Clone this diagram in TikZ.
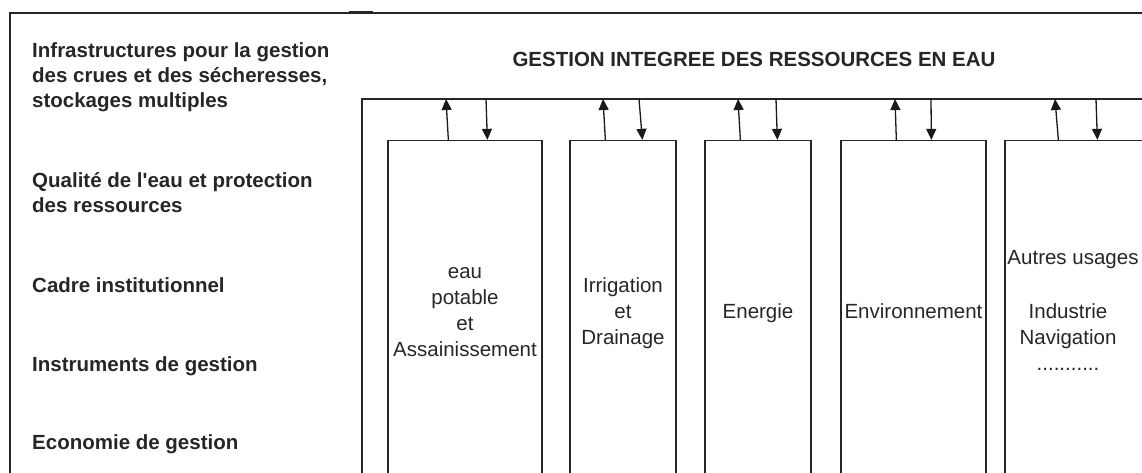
\documentclass[tikz,border=0pt]{standalone}
\usepackage{fontspec}
\setmainfont{Liberation Sans}
\usetikzlibrary{arrows.meta, calc}

\begin{document}
\begin{tikzpicture}[x=1pt, y=-1pt,
  trait/.style={line width=1.3pt, draw=black!85},
  usage/.style={draw=black!85, line width=1.3pt, minimum height=400pt, inner sep=0pt},
  fleche/.style={line width=1.3pt, draw=black!90, -{Triangle[length=11pt,width=10pt]}},
  titre/.style={font=\bfseries\fontsize{20.5}{25}\selectfont, text=black!85},
  theme/.style={anchor=west, align=left, inner sep=0pt, font=\bfseries\fontsize{20.5}{25}\selectfont, text=black!85},
  texte/.style={align=center, inner sep=0pt, font=\fontsize{20.5}{26}\selectfont, text=black!85}]

% Taille de la figure
\useasboundingbox (0,0) rectangle (1142,472);
\clip (0,0) rectangle (1142,472);

% Cadre extérieur
\draw[trait] (1160,13) -- (10,13) -- (10,490);
\draw[trait] (349,12) -- (373,12);

% Titre
\node[titre] (titre) at (754,59) {GESTION INTEGREE DES RESSOURCES EN EAU};

% Cadre GIRE
\draw[trait] (1160,99) -- (362,99) -- (362,490);

% Thèmes transversaux
\node[theme] (infra) at (32,77) {Infrastructures pour la gestion\\des crues et des sécheresses,\\stockages multiples};
\node[theme] (qualite) at (32,193) {Qualité de l\textquotesingle eau et protection\\des ressources};
\node[theme] (cadre) at (32,285) {Cadre institutionnel};
\node[theme] (instr) at (32,366) {Instruments de gestion};
\node[theme] (econ) at (32,444) {Economie de gestion};

% Usages de l'eau
\node[usage, minimum width=154pt] (eau) at (465,340.5) {};
\node[usage, minimum width=106pt] (irrig) at (623,340.5) {};
\node[usage, minimum width=106pt] (energie) at (758,340.5) {};
\node[usage, minimum width=145pt] (envir) at (913.5,340.5) {};
\node[usage, minimum width=170pt] (autres) at (1090,340.5) {};

% Textes des usages
\node[texte] (teau) at (465,312) {eau\\potable\\et\\Assainissement};
\node[texte] (tirrig) at (623,313) {Irrigation\\et\\Drainage};
\node[texte] (tenergie) at (758,313) {Energie};
\node[texte] (tenvir) at (913.5,311) {Environnement};
\node[texte] (tautres) at (1073,260) {Autres usages};
\node[texte] (tindus) at (1068,337) {Industrie\\Navigation\\...........};

% Points d'attache sur le cadre
\coordinate (h1a) at (446,99);
\coordinate (h1b) at (486,99);
\coordinate (h2a) at (603,99);
\coordinate (h2b) at (639,99);
\coordinate (h3a) at (738,99);
\coordinate (h3b) at (776,99);
\coordinate (h4a) at (895,99);
\coordinate (h4b) at (931,99);
\coordinate (h5a) at (1055,99);
\coordinate (h5b) at (1096,99);

% Flèches
\draw[fleche] ($(eau.north west)+(61,0)$) -- (h1a);
\draw[fleche] (h1b) -- ($(eau.north west)+(100,0)$);
\draw[fleche] ($(irrig.north west)+(36,0)$) -- (h2a);
\draw[fleche] (h2b) -- ($(irrig.north west)+(73,0)$);
\draw[fleche] ($(energie.north west)+(36,0)$) -- (h3a);
\draw[fleche] (h3b) -- ($(energie.north west)+(73,0)$);
\draw[fleche] ($(envir.north west)+(56,0)$) -- (h4a);
\draw[fleche] (h4b) -- ($(envir.north west)+(91,0)$);
\draw[fleche] ($(autres.north west)+(54,0)$) -- (h5a);
\draw[fleche] (h5b) -- ($(autres.north west)+(93,0)$);

\end{tikzpicture}
\end{document}
